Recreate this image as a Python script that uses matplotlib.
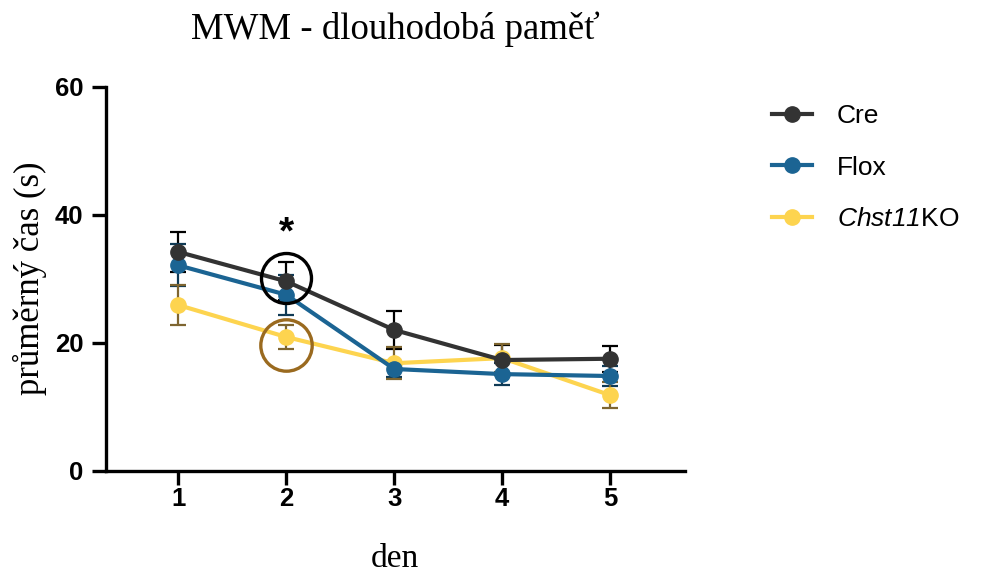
import matplotlib
matplotlib.use('Agg')
import matplotlib.pyplot as plt

plt.rcParams['font.family'] = 'Liberation Sans'
plt.rcParams['mathtext.fontset'] = 'custom'
plt.rcParams['mathtext.it'] = 'Liberation Sans:italic'
plt.rcParams['mathtext.rm'] = 'Liberation Sans:italic'

# data
days = [1, 2, 3, 4, 5]
cre_mean = [34.2, 29.6, 22.0, 17.3, 17.5]
cre_sem = [3.1, 3.0, 3.0, 2.3, 2.0]
flox_mean = [32.1, 27.5, 15.9, 15.1, 14.8]
flox_sem = [3.3, 3.1, 1.3, 1.7, 1.5]
ko_mean = [25.9, 20.9, 16.8, 17.6, 11.8]
ko_sem = [3.1, 1.9, 2.5, 2.2, 2.0]

labels = ["Cre", "Flox", r"$Chst11$KO"]
colors = ["#333333", "#1B6493", "#FDD44F"]
err_colors = ["#000000", "#0F3A55", "#7E6530"]

# day-2 highlights
mark_day = 2
cre_mark = 30.1
ko_mark = 19.6
star_y = 34.2

fig = plt.figure(figsize=(9.84, 5.72), dpi=100)
ax = fig.add_axes([0.1074, 0.177, 0.5886, 0.6714])

series = [(cre_mean, cre_sem), (flox_mean, flox_sem), (ko_mean, ko_sem)]
# draw KO first so Cre sits on top
for i in [2, 1, 0]:
    m, s = series[i]
    ax.errorbar(days, m, yerr=s, fmt='none', ecolor=err_colors[i],
                elinewidth=1.6, capsize=6, capthick=1.6, zorder=2 + i)
for i in [2, 1, 0]:
    m, s = series[i]
    ax.plot(days, m, color=colors[i], lw=3, marker='o', markersize=11,
            label=labels[i], zorder=10 - i)

# circles around day 2 points
ax.plot([mark_day], [cre_mark], marker='o', markersize=36, mfc='none',
        mec='black', mew=2.4, zorder=20)
ax.plot([mark_day], [ko_mark], marker='o', markersize=37, mfc='none',
        mec='#9A6A1F', mew=2.4, zorder=20)
ax.text(mark_day, star_y, '*', ha='center', va='bottom', fontsize=28,
        fontweight='bold')

ax.set_xlim(0.33, 5.69)
ax.set_ylim(0, 60)
ax.set_xticks(days)
ax.set_yticks([0, 20, 40, 60])
ax.spines['top'].set_visible(False)
ax.spines['right'].set_visible(False)
for sp in ['left', 'bottom']:
    ax.spines[sp].set_linewidth(2.4)
ax.tick_params(width=2.4, length=10, labelsize=18.5)
ax.tick_params(axis='y', pad=6)
ax.tick_params(axis='x', pad=2)
for t in ax.get_xticklabels() + ax.get_yticklabels():
    t.set_fontweight('bold')

serif = 'Liberation Serif'
ax.set_title('MWM - dlouhodobá paměť', family=serif, fontsize=26.5, pad=34)
ax.set_ylabel('průměrný čas (s)', family=serif, fontsize=25, labelpad=6)
ax.set_xlabel('den', family=serif, fontsize=24, labelpad=23)

handles, labs = ax.get_legend_handles_labels()
order = [2, 1, 0]
ax.legend([handles[k] for k in order], [labs[k] for k in order],
          loc='upper left', bbox_to_anchor=(1.11, 1.017), frameon=False,
          fontsize=19, handlelength=1.5, labelspacing=1.05, handletextpad=0.95)

fig.savefig('out.png', dpi=100)
